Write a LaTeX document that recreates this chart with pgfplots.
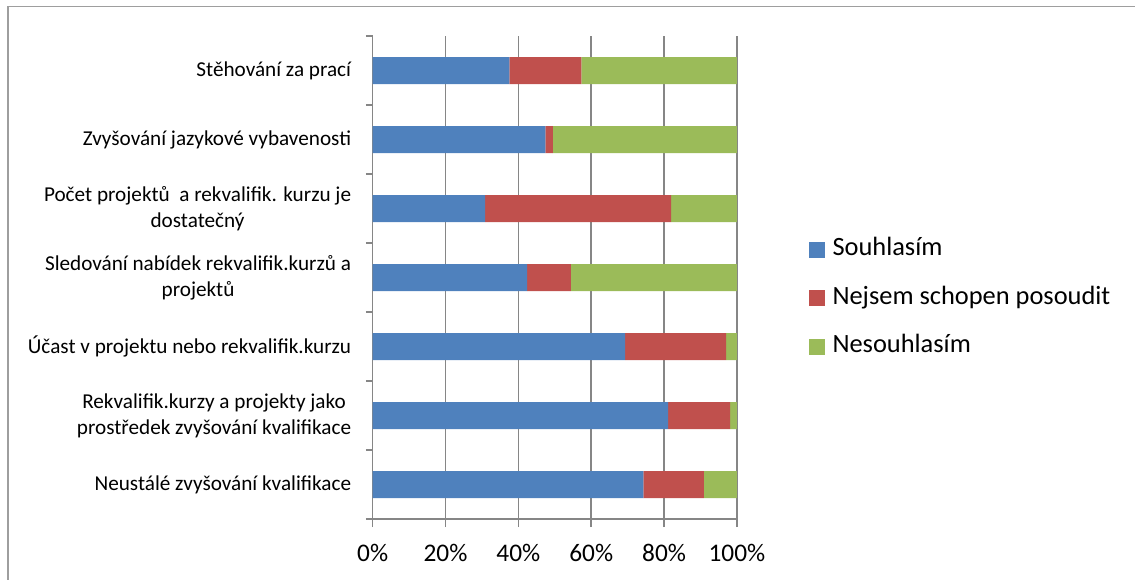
\documentclass[border=0pt]{standalone}
\usepackage{pgfplots}
\pgfplotsset{compat=1.18}
\usepackage{fontspec}
\setmainfont{Carlito}
\definecolor{cBlue}{RGB}{79,129,189}
\definecolor{cRed}{RGB}{192,80,77}
\definecolor{cGreen}{RGB}{155,187,89}
\definecolor{cGrid}{RGB}{134,134,134}
\begin{document}
\begin{tikzpicture}
\useasboundingbox (0,0) rectangle (851.25pt,434.25pt);
\draw[cGrid!80, line width=1.2pt] (6pt,-2pt) -- (6pt,429.5pt) -- (853pt,429.5pt);
\begin{axis}[
  at={(279.5pt,45pt)}, anchor=south west, scale only axis,
  width=273.2pt, height=362.25pt,
  xbar stacked, bar width=20.25pt,
  xmin=0, xmax=100, ymin=-0.5, ymax=6.5, y dir=reverse,
  axis lines*=left,
  axis line style={cGrid, line width=1.1pt},
  tick align=outside, major tick length=6pt, minor tick length=5pt,
  xtick={0,20,...,100},
  xticklabels={0\%,20\%,40\%,60\%,80\%,100\%},
  xmajorgrids, grid style={cGrid, line width=1.1pt},
  ytick={0,...,6},
  yticklabels={
    {Stěhování za prací},
    {Zvyšování jazykové vybavenosti},
    {Počet projektů\ \ a rekvalifik. kurzu je\\dostatečný},
    {Sledování nabídek rekvalifik.kurzů a\\projektů},
    {Účast v projektu nebo rekvalifik.kurzu},
    {Rekvalifik.kurzy a projekty jako\\prostředek zvyšování kvalifikace},
    {Neustálé zvyšování kvalifikace}},
  minor ytick={-0.5,0.5,...,6.5},
  major y tick style={draw=none},
  minor y tick style={cGrid, line width=1.1pt},
  major x tick style={cGrid, line width=1.1pt},
  yticklabel style={align=center, inner sep=0pt, xshift=-10pt,
    font=\fontsize{15.9pt}{19.5pt}\selectfont},
  xticklabel style={inner sep=0pt, yshift=-12.5pt, font=\fontsize{19pt}{23pt}\selectfont},
  legend style={at={(axis description cs:1,0.5)}, anchor=west,
    xshift=54pt, yshift=-15.5pt, draw=none, fill=none, inner sep=0pt,
    row sep=19.5pt, font=\fontsize{19.8pt}{23pt}\selectfont,
    nodes={inner xsep=2.5pt, inner ysep=0pt, text height=13pt, text depth=4pt}},
  legend cell align=left,
  legend image code/.code={\fill[#1] (0pt,-6pt) rectangle (12pt,6pt); \path (15pt,0pt);},
]
\addplot[fill=cBlue, draw=none] coordinates {(37.5,0) (47.4,1) (30.9,2) (42.4,3) (69.3,4) (81.1,5) (74.3,6)};
\addplot[fill=cRed, draw=none] coordinates {(19.8,0) (2.1,1) (51.0,2) (12.0,3) (27.7,4) (17.0,5) (16.6,6)};
\addplot[fill=cGreen, draw=none] coordinates {(42.7,0) (50.5,1) (18.1,2) (45.6,3) (3.0,4) (1.9,5) (9.1,6)};
\legend{Souhlasím, Nejsem schopen posoudit, Nesouhlasím}
\end{axis}
\end{tikzpicture}
\end{document}
